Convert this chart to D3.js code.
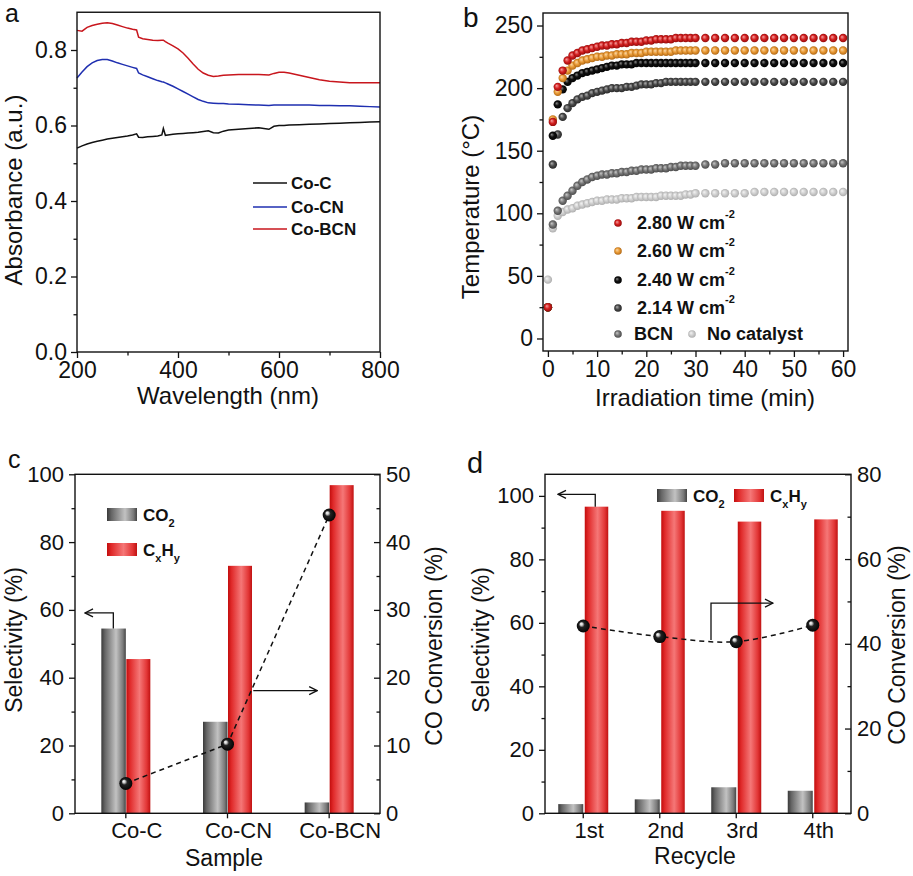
<!DOCTYPE html>
<html><head><meta charset="utf-8">
<script src="https://cdn.jsdelivr.net/npm/d3@7"></script>
<style>body{margin:0;background:#fff} svg{display:block} text{font-family:'Liberation Sans',Arial,sans-serif;fill:#111}</style>
</head><body><svg id="fig" width="913" height="876"></svg>
<script>
// ---------- Panel a data ----------
const wavelengths = [200,210,220,230,240,250,260,270,280,290,300,310,318,322,330,340,350,360,368,371,375,380,390,400,410,420,430,440,450,460,470,480,490,500,520,540,560,580,590,600,610,620,640,660,680,700,720,740,760,780,800];
const absCoC   = [.540,.546,.551,.555,.558,.561,.564,.566,.568,.570,.572,.575,.578,.569,.568,.570,.571,.572,.575,.592,.574,.575,.577,.578,.579,.580,.581,.582,.584,.586,.581,.580,.585,.588,.590,.592,.594,.590,.598,.600,.600,.601,.602,.603,.604,.605,.606,.607,.608,.609,.610];
const absCoCN  = [.726,.742,.756,.766,.772,.775,.775,.771,.766,.762,.758,.754,.751,.739,.734,.729,.724,.719,.716,.715,.713,.710,.704,.697,.690,.683,.676,.669,.664,.660,.659,.658,.658,.657,.656,.655,.654,.653,.654,.654,.654,.654,.654,.654,.653,.653,.652,.652,.651,.650,.649];
const absCoBCN = [.852,.850,.860,.865,.868,.871,.872,.870,.866,.862,.858,.855,.853,.834,.830,.828,.826,.825,.826,.826,.822,.818,.811,.803,.792,.778,.763,.749,.739,.733,.730,.731,.733,.734,.735,.735,.735,.734,.738,.741,.741,.739,.733,.727,.721,.717,.715,.713,.713,.713,.713];
const seriesA = ["Co-C","Co-CN","Co-BCN"];
const colorsA = ["#111111","#1f2fb0","#c8161d"];

// ---------- Panel b data ----------
const times = [0,1,2,3,4,5,6,7,8,9,10,11,12,13,14,15,16,17,18,19,20,21,22,23,24,25,26,27,28,29,30,32,34,36,38,40,42,44,46,48,50,52,54,56,58,60];
const temp280 = [25,173,201,214,222,226,228,230,231,232,233,234,234,235,235,236,236,237,237,237,238,238,239,239,239,239,240,240,240,240,240,240,240,240,240,240,240,240,240,240,240,240,240,240,240,240];
const temp260 = [25,175,197,208,214,218,220,222,223,224,225,225,226,226,227,227,227,228,228,228,229,229,229,229,229,229,230,230,230,230,230,230,230,230,230,230,230,230,230,230,230,230,230,230,230,230];
const temp240 = [25,162,187,199,205,208,210,212,213,214,215,216,217,218,218,219,219,219,220,220,220,220,220,220,220,220,220,220,220,220,220,220,220,220,220,220,220,220,220,220,220,220,220,220,220,220];
const temp214 = [25,139,163,177,184,188,191,193,194,196,197,198,199,200,200,200,201,201,202,203,203,203,204,204,205,205,205,205,205,205,205,205,205,205,205,205,205,205,205,205,205,205,205,205,205,205];
const tempBCN = [25,91,102,110,114,118,122,125,127,129,130,131,131,132,132,133,133,134,134,135,135,135,136,136,136,137,137,138,138,138,138,139,139,140,140,140,140,140,140,140,140,140,140,140,140,140];
const tempNone = [47,88,98,101,103,104,106,107,108,109,110,110,111,111,111,112,112,112,113,113,113,113,113,114,114,114,114,114,115,115,116,116,116,116,116,116,117,117,117,117,117,117,117,117,117,117];
const seriesB = ["No catalyst","BCN","2.14","2.40","2.60","2.80"];

// ---------- Panel c data ----------
const samples = ["Co-C","Co-CN","Co-BCN"];
const selCO2c = [54.5,27,3.2];
const selCxHyc = [45.5,73,96.8];
const convC = [4.4,10.2,44];

// ---------- Panel d data ----------
const recycles = ["1st","2nd","3rd","4th"];
const selCO2d = [2.9,4.4,8.2,7.1];
const selCxHyd = [96.6,95.3,91.9,92.6];
const convD = [44.2,41.7,40.5,44.4];

const svg = d3.select("#fig");
const defs = svg.append("defs");
function radial(id, stops, fx, fy){
  const g = defs.append("radialGradient").attr("id",id).attr("cx","50%").attr("cy","50%").attr("r","55%").attr("fx",fx||"35%").attr("fy",fy||"35%");
  stops.forEach(s=>g.append("stop").attr("offset",s[0]).attr("stop-color",s[1]));
}
function linear(id, stops){
  const g = defs.append("linearGradient").attr("id",id).attr("x1","0").attr("x2","1").attr("y1","0").attr("y2","0");
  stops.forEach(s=>g.append("stop").attr("offset",s[0]).attr("stop-color",s[1]));
}
radial("s280",[[0,"#f4a0a0"],[0.5,"#d42020"],[1,"#8a0808"]]);
radial("s260",[[0,"#fad8a8"],[0.5,"#e99a35"],[1,"#a86010"]]);
radial("s240",[[0,"#8a8a8a"],[0.45,"#111"],[1,"#000"]]);
radial("s214",[[0,"#b0b0b0"],[0.5,"#4a4a4a"],[1,"#222"]]);
radial("sBCN",[[0,"#c8c8c8"],[0.5,"#777"],[1,"#444"]]);
radial("sNone",[[0,"#f4f4f4"],[0.5,"#cfcfcf"],[1,"#a8a8a8"]]);
radial("ball",[[0,"#ffffff"],[0.18,"#cfcfcf"],[0.4,"#222"],[1,"#000"]],"32%","32%");
linear("gGray",[[0,"#3a3a3a"],[0.15,"#666"],[0.6,"#c2c2c2"],[0.88,"#7a7a7a"],[1,"#444"]]);
linear("gRed",[[0,"#c20d0d"],[0.15,"#e02a2a"],[0.55,"#f57777"],[0.85,"#e23636"],[1,"#c01212"]]);
defs.append("marker").attr("id","arr").attr("viewBox","0 0 10 10").attr("refX",9).attr("refY",5)
  .attr("markerWidth",10).attr("markerHeight",10).attr("markerUnits","userSpaceOnUse").attr("orient","auto")
  .append("path").attr("d","M1,1 L9,5 L1,9").attr("fill","none").attr("stroke","#111").attr("stroke-width",1.3);

const FONT = "'Liberation Sans',Arial,sans-serif";

function drawAxis(g, axisFn, scale, major, minor, size, fmt, fs, pad){
  const a = g.append("g");
  a.call(axisFn(scale).tickValues(major).tickSize(size).tickPadding(pad).tickFormat(fmt));
  a.select(".domain").remove();
  a.selectAll("line").attr("stroke","#111").attr("stroke-width",1.3);
  a.selectAll("text").attr("font-size",fs).attr("font-family",FONT).attr("fill","#111");
  const m = g.append("g");
  m.call(axisFn(scale).tickValues(minor).tickSize(size>0?3.5:-3.5).tickFormat(""));
  m.select(".domain").remove();
  m.selectAll("line").attr("stroke","#111").attr("stroke-width",1.3);
  return a;
}
function frame(x0,x1,y0,y1){
  svg.append("rect").attr("x",x0).attr("y",y1).attr("width",x1-x0).attr("height",y0-y1)
    .attr("fill","none").attr("stroke","#111").attr("stroke-width",1.4);
}
function vtitle(x,y,txt,fs){
  svg.append("text").attr("transform",`translate(${x},${y}) rotate(-90)`).attr("text-anchor","middle")
    .attr("dominant-baseline","central").attr("font-size",fs||24).text(txt);
}
function htitle(x,y,txt,fs){
  svg.append("text").attr("x",x).attr("y",y).attr("text-anchor","middle").attr("font-size",fs||24).text(txt);
}

// ================= Panel a =================
{
  const x = d3.scaleLinear([200,800],[77,380]);
  const y = d3.scaleLinear([0,0.9],[352,12.25]);
  const gx = svg.append("g").attr("transform","translate(0,352)");
  drawAxis(gx, d3.axisBottom, x, [200,400,600,800],[300,500,700],6,d3.format("d"),23,4);
  const gy = svg.append("g").attr("transform","translate(77,0)");
  drawAxis(gy, d3.axisLeft, y, [0,0.2,0.4,0.6,0.8],[0.1,0.3,0.5,0.7],6,d3.format(".1f"),23,4);
  const data = [absCoC, absCoCN, absCoBCN];
  const line = d3.line().x((d,i)=>x(wavelengths[i])).y(d=>y(d));
  data.forEach((s,k)=>{
    svg.append("path").datum(s).attr("d",line).attr("fill","none").attr("stroke",colorsA[k]).attr("stroke-width",1.5);
  });
  frame(77,380,352,12.25);
  seriesA.forEach((n,k)=>{
    const yy = [183,207,229][k];
    svg.append("line").attr("x1",253).attr("x2",287).attr("y1",yy).attr("y2",yy).attr("stroke",colorsA[k]).attr("stroke-width",1.5);
    svg.append("text").attr("x",291).attr("y",yy).attr("dominant-baseline","central").attr("font-size",17).attr("font-weight","bold").text(n);
  });
  vtitle(13,190,"Absorbance (a.u.)");
  htitle(228,404,"Wavelength (nm)");
  svg.append("text").attr("x",5).attr("y",22).attr("font-size",25).text("a");
}

// ================= Panel b =================
{
  const x = d3.scaleLinear([-1,61],[543,848]);
  const y = d3.scaleLinear([-10,260],[351,13]);
  const gx = svg.append("g").attr("transform","translate(0,351)");
  drawAxis(gx, d3.axisBottom, x, [0,10,20,30,40,50,60],[5,15,25,35,45,55],6,d3.format("d"),23,4);
  const gy = svg.append("g").attr("transform","translate(543,0)");
  drawAxis(gy, d3.axisLeft, y, [0,50,100,150,200,250],[25,75,125,175,225],6,d3.format("d"),23,4);
  const sets = [[tempNone,"sNone"],[tempBCN,"sBCN"],[temp214,"s214"],[temp240,"s240"],[temp260,"s260"],[temp280,"s280"]];
  sets.forEach(([vals,grad])=>{
    svg.append("g").selectAll("circle").data(vals).join("circle")
      .attr("cx",(d,i)=>x(times[i])).attr("cy",d=>y(d)).attr("r",4.2).attr("fill",`url(#${grad})`);
  });
  frame(543,848,351,13);
  const leg = [["s280","2.80"],["s260","2.60"],["s240","2.40"],["s214","2.14"]];
  leg.forEach(([g,t],k)=>{
    const yy = [223,251,280,308][k];
    svg.append("circle").attr("cx",618).attr("cy",yy).attr("r",3.8).attr("fill",`url(#${g})`);
    const tx = svg.append("text").attr("x",637).attr("y",yy).attr("dominant-baseline","central").attr("font-size",18).attr("font-weight","bold");
    tx.append("tspan").text(t+" W cm");
    tx.append("tspan").attr("dy",-9).attr("font-size",11).text("-2");
  });
  svg.append("circle").attr("cx",618).attr("cy",334).attr("r",3.8).attr("fill","url(#sBCN)");
  svg.append("text").attr("x",634).attr("y",334).attr("dominant-baseline","central").attr("font-size",18).attr("font-weight","bold").text("BCN");
  svg.append("circle").attr("cx",692).attr("cy",334).attr("r",3.8).attr("fill","url(#sNone)");
  svg.append("text").attr("x",707).attr("y",334).attr("dominant-baseline","central").attr("font-size",18).attr("font-weight","bold").text("No catalyst");
  vtitle(470,207,"Temperature (\u00B0C)");
  htitle(705,406,"Irradiation time (min)");
  svg.append("text").attr("x",463).attr("y",27).attr("font-size",28).text("b");
}

function barPanel(cfg){
  const {cats, co2, cxhy, conv, x0, x1, yb, yt, ymax, y2max, leftMajor, leftMinor, rightMajor, rightMinor, barW, gap, labelDx} = cfg;
  const x = d3.scaleBand(cats,[x0,x1]);
  const y = d3.scaleLinear([0,ymax],[yb,yt]);
  const y2 = d3.scaleLinear([0,y2max],[yb,yt]);
  const c = d => x(d)+x.bandwidth()/2;
  svg.append("g").selectAll("rect").data(co2).join("rect")
    .attr("x",(d,i)=>c(cats[i])-barW).attr("y",d=>y(d)).attr("width",barW).attr("height",d=>yb-y(d)).attr("fill","url(#gGray)");
  svg.append("g").selectAll("rect").data(cxhy).join("rect")
    .attr("x",(d,i)=>c(cats[i])+gap).attr("y",d=>y(d)).attr("width",barW-gap).attr("height",d=>yb-y(d)).attr("fill","url(#gRed)");
  const gx = svg.append("g").attr("transform",`translate(0,${yb})`);
  const ax = gx.append("g").call(d3.axisBottom(x).tickSize(5).tickPadding(4));
  ax.select(".domain").remove();
  ax.selectAll("line").attr("stroke","#111").attr("stroke-width",1.3);
  ax.selectAll("text").attr("font-size",22).attr("font-family",FONT).attr("fill","#111").attr("dx",labelDx);
  const gy = svg.append("g").attr("transform",`translate(${x0},0)`);
  drawAxis(gy, d3.axisLeft, y, leftMajor, leftMinor, 6, d3.format("d"), 22, 5);
  const gy2 = svg.append("g").attr("transform",`translate(${x1},0)`);
  drawAxis(gy2, d3.axisRight, y2, rightMajor, rightMinor, -6, d3.format("d"), 22, 6);
  frame(x0,x1,yb,yt);
  const line = d3.line().x((d,i)=>c(cats[i])).y(d=>y2(d)).curve(cfg.curve);
  svg.append("path").datum(conv).attr("d",line).attr("fill","none").attr("stroke","#111").attr("stroke-width",1.5).attr("stroke-dasharray","5,4");
  svg.append("g").selectAll("circle").data(conv).join("circle")
    .attr("cx",(d,i)=>c(cats[i])).attr("cy",d=>y2(d)).attr("r",6.5).attr("fill","url(#ball)");
  return {x,y,y2,c};
}
function legendBars(xg, yg, xr, yr){
  svg.append("rect").attr("x",xg).attr("y",yg).attr("width",30).attr("height",13).attr("fill","url(#gGray)");
  const t1 = svg.append("text").attr("x",xg+36).attr("y",yg+13).attr("font-size",17).attr("font-weight","bold");
  t1.append("tspan").text("CO"); t1.append("tspan").attr("dy",6).attr("font-size",11).text("2");
  svg.append("rect").attr("x",xr).attr("y",yr).attr("width",30).attr("height",13).attr("fill","url(#gRed)");
  const t2 = svg.append("text").attr("x",xr+36).attr("y",yr+13).attr("font-size",17).attr("font-weight","bold");
  t2.append("tspan").text("C"); t2.append("tspan").attr("dy",6).attr("font-size",11).text("x");
  t2.append("tspan").attr("dy",-6).attr("font-size",17).text("H"); t2.append("tspan").attr("dy",6).attr("font-size",11).text("y");
}
function elbow(pts){
  svg.append("path").attr("d",d3.line()(pts)).attr("fill","none").attr("stroke","#111").attr("stroke-width",1.3).attr("marker-end","url(#arr)");
}

// ================= Panel c =================
{
  const p = barPanel({cats:samples, co2:selCO2c, cxhy:selCxHyc, conv:convC, x0:75, x1:380, yb:813.3, yt:474.3, ymax:100, y2max:50,
    leftMajor:[0,20,40,60,80,100], leftMinor:[10,30,50,70,90], rightMajor:[0,10,20,30,40,50], rightMinor:[5,15,25,35,45],
    barW:24.5, gap:0.5, labelDx:11, curve:d3.curveLinear});
  const cc = p.c(samples[0]);
  elbow([[cc-12.5,p.y(selCO2c[0])],[cc-12.5,p.y(59.1)],[85,p.y(59.1)]]);
  const yv = p.y2(18.1);
  const xa = p.c(samples[1]) + (p.y2(convC[1])-yv)/(p.y2(convC[1])-p.y2(convC[2]))*(p.c(samples[2])-p.c(samples[1]));
  elbow([[xa+2,yv],[p.c(samples[2])-12,yv]]);
  legendBars(107,508,107,543);
  vtitle(14,640,"Selectivity (%)",23);
  vtitle(434,646,"CO Conversion (%)",23);
  htitle(224,866,"Sample",23);
  svg.append("text").attr("x",8).attr("y",468).attr("font-size",25).text("c");
}

// ================= Panel d =================
{
  const p = barPanel({cats:recycles, co2:selCO2d, cxhy:selCxHyd, conv:convD, x0:545, x1:851, yb:813.3, yt:474.3, ymax:106.8, y2max:80,
    leftMajor:[0,20,40,60,80,100], leftMinor:[10,30,50,70,90], rightMajor:[0,20,40,60,80], rightMinor:[10,30,50,70],
    barW:25, gap:1.5, labelDx:6, curve:d3.curveCatmullRom});
  const cc = p.c(recycles[0]);
  elbow([[cc+12,p.y(selCxHyd[0])],[cc+12,p.y(100.5)],[558,p.y(100.5)]]);
  elbow([[711,p.y2(40.9)],[711,p.y2(49.6)],[773,p.y2(49.6)]]);
  legendBars(657,489,734,489);
  vtitle(481,640,"Selectivity (%)",23);
  vtitle(897,645,"CO Conversion (%)",23);
  htitle(695,864,"Recycle",23);
  svg.append("text").attr("x",467).attr("y",473).attr("font-size",29).text("d");
}
</script></body></html>
